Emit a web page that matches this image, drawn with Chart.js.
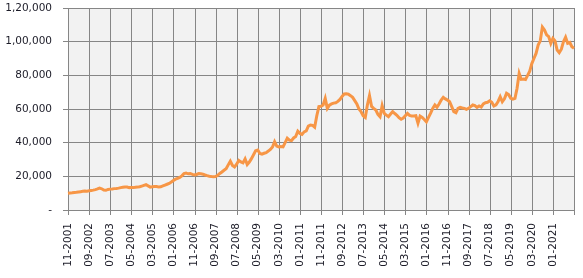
<!DOCTYPE html>
<html>
<head>
<meta charset="utf-8">
<title>Price chart</title>
<script src="https://cdn.jsdelivr.net/npm/chart.js@4.4.1/dist/chart.umd.min.js"></script>
<style>
    html, body { margin: 0; padding: 0; background: #ffffff; }
    #chartCanvas { display: block; }
</style>
</head>
<body>
<canvas id="chartCanvas" width="583" height="278"></canvas>
<script>
// First month of the series (month, year)
const startMonth = 11;
const startYear = 2001;

// Monthly values, 11-2001 .. 11-2021
const monthlyValues = [
    9900, 10100, 10200, 10400, 10500, 10700, 10900, 11100, 11300, 11200,
    11400, 11600, 11800, 12100, 12500, 13000, 12600, 11900, 11700, 12200,
    12400, 12500, 12700, 12800, 13000, 13300, 13500, 13700, 13600, 13300,
    13400, 13300, 13500, 13600, 13800, 14200, 14600, 15000, 14300, 13600,
    13800, 14000, 13900, 13700, 13800, 14300, 14800, 15300, 15800, 16600,
    17500, 18300, 18800, 19300, 20300, 21600, 21900, 21500, 21700, 21200,
    20800, 21100, 21600, 21500, 21300, 20800, 20400, 20100, 19900, 19800,
    19900, 20600, 21700, 22600, 23600, 24500, 26800, 29000, 26500, 25600,
    27200, 29500, 28600, 28000, 30400, 27000, 28500, 30500, 32800, 35200,
    35600, 33600, 33200, 33700, 34100, 35000, 36000, 37400, 40600, 38000,
    37500, 37700, 37500, 40000, 42600, 41500, 41200, 42800, 43600, 46800,
    45500, 44900, 46400, 47000, 49800, 50500, 50300, 49200, 56000, 61400,
    61600, 62400, 66300, 60400, 62300, 63000, 63500, 63700, 64500, 65700,
    67500, 68900, 69000, 68800, 67900, 66900, 65000, 63000, 60000, 58400,
    56000, 55000, 62400, 68000, 61500, 60400, 59400, 56800, 55400, 62000,
    57400, 56400, 55400, 57000, 58400, 57300, 56300, 54800, 53900, 54600,
    56000, 57400, 56200, 55800, 55800, 56000, 51600, 55800, 55000, 53800,
    52400, 55000, 57500, 60400, 62400, 61000, 63000, 65300, 66900, 66000,
    65300, 64300, 61400, 58400, 57800, 60400, 61000, 60600, 60400, 59800,
    60400, 61400, 62400, 62000, 61000, 61800, 61200, 63000, 63700, 64000,
    64900, 64000, 61800, 62500, 64500, 67300, 64300, 66000, 69300, 68500,
    66400, 65900, 66300, 72300, 81200, 77600, 77800, 77500, 80000,
    82500, 87000, 90000, 93000, 98000, 100500, 108700, 107000, 104000, 103000,
    99000, 102000, 100500, 95000, 93500, 95500, 100000, 102600, 99000, 99500,
    97000, 96000
];

// Y axis labels, bottom to top, in Indian digit grouping
const yTickValues = [0, 20000, 40000, 60000, 80000, 100000, 120000];
const yTickLabels = ['-', '20,000', '40,000', '60,000', '80,000', '1,00,000', '1,20,000'];

// Every 10th month gets a label on the x axis
const xLabelStep = 10;

document.addEventListener('DOMContentLoaded', () => {
    const canvas = document.getElementById('chartCanvas');
    const lastIndex = monthlyValues.length - 1;

    // Build "MM-YYYY" labels for each month
    const monthLabels = monthlyValues.map((v, i) => {
        const total = (startMonth - 1) + i;
        const m = (total % 12) + 1;
        const y = startYear + Math.floor(total / 12);
        return String(m).padStart(2, '0') + '-' + y;
    });

    const gridColor = '#868686';
    const textColor = '#1c1c28';
    const tickFont = { family: 'DejaVu Sans', size: 10.5 };

    // Grey plot background
    const plotBackground = {
        id: 'plotBackground',
        beforeDraw(chart) {
            const { ctx, chartArea } = chart;
            ctx.save();
            ctx.fillStyle = '#f2f2f2';
            ctx.fillRect(chartArea.left, chartArea.top, chartArea.right - chartArea.left, chartArea.bottom - chartArea.top);
            ctx.restore();
        }
    };

    // Vertical grid lines + tick marks on labelled months and on the closing month
    const monthGrid = {
        id: 'monthGrid',
        beforeDatasetsDraw(chart) {
            const { ctx, chartArea } = chart;
            const xScale = chart.scales.x;
            ctx.save();
            ctx.strokeStyle = gridColor;
            ctx.lineWidth = 1;
            ctx.beginPath();
            monthLabels.forEach((label, i) => {
                if (i % xLabelStep !== 0 && i !== lastIndex) return;
                const px = Math.round(xScale.getPixelForValue(i)) + 0.5;
                ctx.moveTo(px, chartArea.top);
                ctx.lineTo(px, chartArea.bottom + 5);
            });
            ctx.stroke();
            ctx.restore();
        }
    };

    new Chart(canvas.getContext('2d'), {
        type: 'line',
        data: {
            labels: monthLabels,
            datasets: [{
                data: monthlyValues,
                borderColor: '#f79646',
                borderWidth: 3,
                pointRadius: 0,
                tension: 0,
                fill: false
            }]
        },
        options: {
            responsive: false,
            animation: false,
            layout: { padding: { top: 8, right: 9, left: 0, bottom: 0 } },
            plugins: {
                legend: { display: false },
                tooltip: { enabled: false }
            },
            scales: {
                x: {
                    type: 'category',
                    offset: false,
                    grid: { display: false, tickLength: 5 },
                    border: { color: gridColor, width: 1 },
                    ticks: {
                        autoSkip: false,
                        minRotation: 90,
                        maxRotation: 90,
                        padding: 8,
                        color: textColor,
                        font: tickFont,
                        callback: function(value, index) {
                            if (index === lastIndex) return '';
                            return index % xLabelStep === 0 ? monthLabels[index] : '';
                        }
                    },
                    afterFit: (scale) => {
                        scale.height = 68;
                        scale.paddingLeft = 0;
                        scale.paddingRight = 0;
                    }
                },
                y: {
                    min: yTickValues[0],
                    max: yTickValues[yTickValues.length - 1],
                    grid: { color: gridColor, lineWidth: 1, tickLength: 5 },
                    border: { color: gridColor, width: 1 },
                    ticks: {
                        stepSize: 20000,
                        padding: 11,
                        color: textColor,
                        font: tickFont,
                        callback: function(value) {
                            const idx = yTickValues.indexOf(value);
                            return idx >= 0 ? yTickLabels[idx] : '';
                        }
                    },
                    afterFit: (scale) => {
                        scale.width = 68;
                        scale.paddingTop = 0;
                        scale.paddingBottom = 0;
                    }
                }
            }
        },
        plugins: [plotBackground, monthGrid]
    });
});
</script>
</body>
</html>
